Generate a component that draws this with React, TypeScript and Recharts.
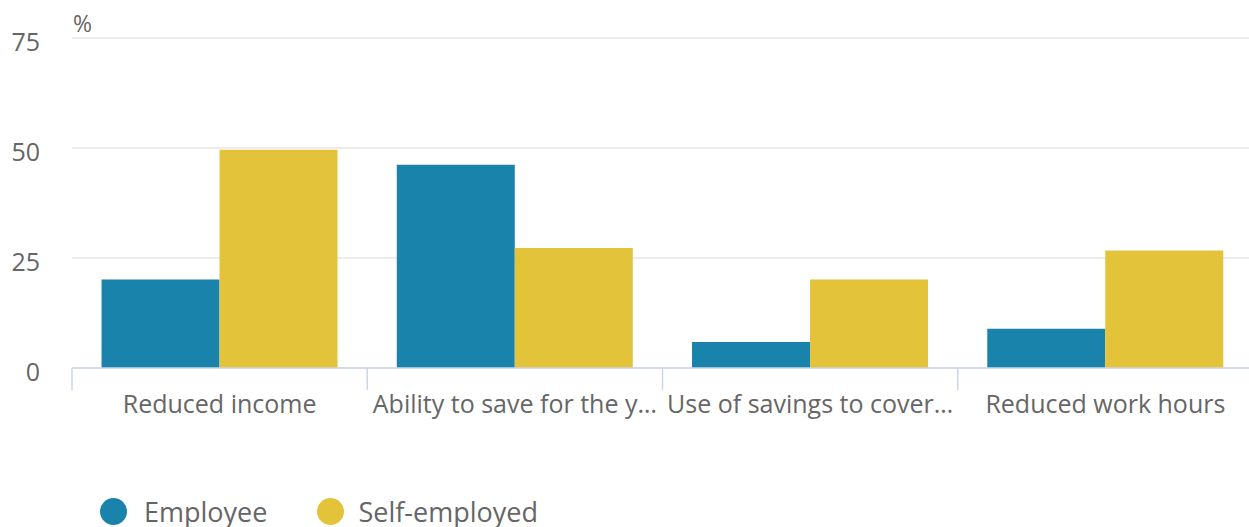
import React from "react";
import {
  Bar,
  BarChart,
  CartesianGrid,
  Legend,
  XAxis,
  YAxis,
} from "recharts";

const categories = [
  "Reduced income",
  "Ability to save for the y…",
  "Use of savings to cover…",
  "Reduced work hours",
];
const employee = [20.1, 46.2, 5.9, 8.9];
const selfEmployed = [49.6, 27.3, 20.1, 26.7];
const yTicks = [0, 25, 50, 75];

const data = categories.map((name, i) => ({
  name,
  employee: employee[i],
  selfEmployed: selfEmployed[i],
}));

const WIDTH = 1249;
const HEIGHT = 527;
const PLOT_LEFT = 72;
const RIGHT_OVERHANG = 4; // plot area runs a few px past the picture edge
const HALF_BAND = (WIDTH + RIGHT_OVERHANG - PLOT_LEFT) / categories.length / 2;
const TEXT = "#666666";
const FONT = "'Open Sans', sans-serif";

const XTick = (props: any) => {
  const { x, payload } = props;
  return (
    <g>
      <line x1={x - HALF_BAND} x2={x - HALF_BAND} y1={368} y2={390} stroke="#ccd6eb" strokeWidth={1.5} />
      <text x={x} y={403} textAnchor="middle" dominantBaseline="central" fill={TEXT} fontSize={25} fontFamily={FONT}>
        {payload.value}
      </text>
    </g>
  );
};

const YTick = (props: any) => {
  const { y, payload } = props;
  return (
    <text x={40} y={y + 3} textAnchor="end" dominantBaseline="central" fill={TEXT} fontSize={25} fontFamily={FONT}>
      {payload.value}
    </text>
  );
};

const LegendContent = () => (
  <div style={{ display: "flex", alignItems: "center", fontFamily: FONT, fontSize: 27, color: TEXT, whiteSpace: "nowrap" }}>
    <span style={{ width: 27, height: 27, borderRadius: "50%", background: "#1a83ab", display: "inline-block" }} />
    <span style={{ marginLeft: 17 }}>Employee</span>
    <span style={{ width: 27, height: 27, borderRadius: "50%", background: "#e3c33a", display: "inline-block", marginLeft: 50 }} />
    <span style={{ marginLeft: 14 }}>Self-employed</span>
  </div>
);

export default function App() {
  return (
    <div style={{ position: "absolute", left: 0, top: 0, width: WIDTH, height: HEIGHT, background: "#fff", overflow: "hidden" }}>
      <BarChart
        width={WIDTH}
        height={HEIGHT}
        data={data}
        margin={{ top: 38, right: -RIGHT_OVERHANG, left: 0, bottom: 59 }}
        barCategoryGap="10%"
        barGap={0}
      >
        <CartesianGrid horizontal vertical={false} stroke="#e6e6e6" strokeWidth={1.5} />
        <XAxis
          dataKey="name"
          interval={0}
          height={70}
          tick={<XTick />}
          tickLine={false}
          axisLine={{ stroke: "#ccd6eb", strokeWidth: 1.5 }}
        />
        <YAxis
          width={PLOT_LEFT}
          domain={[0, 75]}
          ticks={yTicks}
          tick={<YTick />}
          tickLine={false}
          axisLine={false}
          label={{
            content: () => (
              <text x={73} y={23} dominantBaseline="central" fill={TEXT} fontSize={23} fontFamily={FONT}>
                %
              </text>
            ),
          }}
        />
        <Legend
          content={<LegendContent />}
          wrapperStyle={{ position: "absolute", left: 100, top: 493, width: "auto", height: 30 }}
        />
        <Bar dataKey="employee" name="Employee" fill="#1a83ab" isAnimationActive={false} />
        <Bar dataKey="selfEmployed" name="Self-employed" fill="#e3c33a" isAnimationActive={false} />
      </BarChart>
    </div>
  );
}
